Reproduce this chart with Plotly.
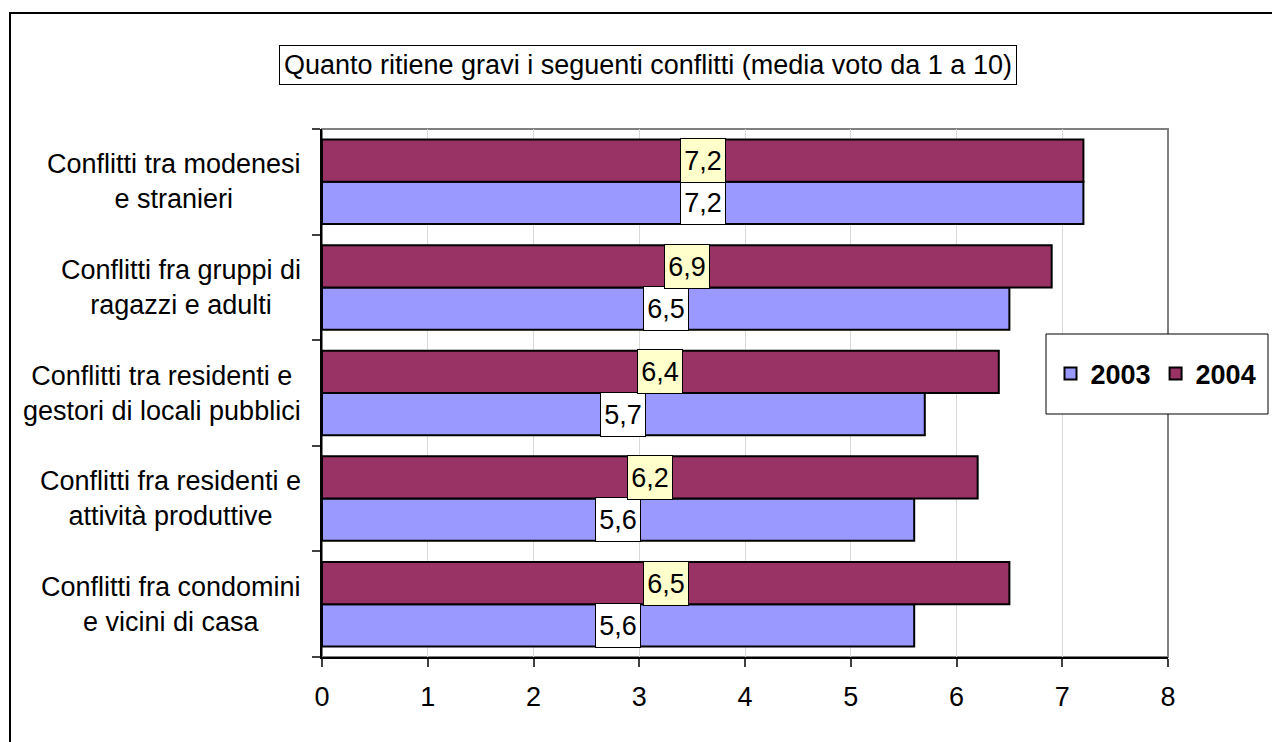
import plotly.graph_objects as go

# Data (bottom-to-top order on the chart)
categories = [
    "Conflitti fra condomini<br>e vicini di casa",
    "Conflitti fra residenti e<br>attività produttive",
    "Conflitti tra residenti e<br>gestori di locali pubblici",
    "Conflitti fra gruppi di<br>ragazzi e adulti",
    "Conflitti tra modenesi<br>e stranieri",
]
values_2003 = [5.6, 5.6, 5.7, 6.5, 7.2]
values_2004 = [6.5, 6.2, 6.4, 6.9, 7.2]
series_names = ["2003", "2004"]
title_text = "Quanto ritiene gravi i seguenti conflitti (media voto da 1 a 10)"
x_ticks = [0, 1, 2, 3, 4, 5, 6, 7, 8]

FONT = "Liberation Sans, Arial, sans-serif"
FS = 27
W, H = 1272, 742
ML, MR, MT, MB = 322, 104, 129, 85
PW, PH = W - ML - MR, H - MT - MB

def px_x(p):
    return (p - ML) / PW

def px_y(p):
    return (H - MB - p) / PH

cat_idx = list(range(len(categories)))

fig = go.Figure()
fig.add_trace(go.Bar(
    y=cat_idx, x=values_2003, orientation="h", name=series_names[0],
    marker=dict(color="#9999FF", line=dict(color="black", width=2)),
))
fig.add_trace(go.Bar(
    y=cat_idx, x=values_2004, orientation="h", name=series_names[1],
    marker=dict(color="#993366", line=dict(color="black", width=2)),
))

annotations = []
bar_half = 0.2
for i, (v3, v4) in enumerate(zip(values_2003, values_2004)):
    for v, off, bg in ((v3, -bar_half, "white"), (v4, bar_half, "#FFFFCC")):
        annotations.append(dict(
            x=v / 2, y=i + off, xref="x", yref="y",
            text=f"{v:.1f}".replace(".", ","), showarrow=False,
            font=dict(family=FONT, size=FS, color="black"),
            bgcolor=bg, bordercolor="black", borderwidth=1, borderpad=0,
            width=44, height=43, xanchor="center", yanchor="middle",
        ))
    # category label
    annotations.append(dict(
        x=0, y=i, xref="paper", yref="y", xanchor="right", yanchor="middle",
        xshift=-19, text=categories[i], align="center", showarrow=False,
        font=dict(family=FONT, size=FS, color="black"),
    ))

annotations.append(dict(
    x=px_x(648), y=px_y(65.5), xref="paper", yref="paper",
    xanchor="center", yanchor="middle", text=title_text, showarrow=False,
    font=dict(family=FONT, size=FS, color="black"),
    bgcolor="white", bordercolor="black", borderwidth=1, borderpad=4,
))

shapes = [
    # plot area border (gray)
    dict(type="rect", xref="paper", yref="paper", x0=0, x1=1, y0=0, y1=1,
         line=dict(color="#808080", width=2), layer="below"),
    # legend box
    dict(type="rect", xref="paper", yref="paper",
         x0=px_x(1046), x1=px_x(1268), y0=px_y(414), y1=px_y(334),
         line=dict(color="black", width=1), fillcolor="white", layer="above"),
    # outer chart border (left & top)
    dict(type="line", xref="paper", yref="paper", x0=px_x(10), x1=px_x(10),
         y0=px_y(13), y1=px_y(745), line=dict(color="black", width=2)),
    dict(type="line", xref="paper", yref="paper", x0=px_x(9), x1=px_x(1275),
         y0=px_y(13), y1=px_y(13), line=dict(color="black", width=2)),
]

fig.update_layout(
    width=W, height=H,
    margin=dict(l=ML, r=MR, t=MT, b=MB, pad=0, autoexpand=False),
    paper_bgcolor="white", plot_bgcolor="white",
    barmode="group", bargap=0.2, bargroupgap=0,
    font=dict(family=FONT, size=FS, color="black"),
    showlegend=True,
    legend=dict(
        orientation="h", x=px_x(1156), y=px_y(374), xanchor="center", yanchor="middle",
        bgcolor="rgba(0,0,0,0)", borderwidth=0,
        font=dict(family=FONT, size=FS, color="black", weight="bold"),
        traceorder="normal", itemwidth=30,
    ),
    annotations=annotations,
    shapes=shapes,
    xaxis=dict(
        range=[0, 8], tickvals=x_ticks, ticktext=[str(t) for t in x_ticks],
        showgrid=True, gridcolor="#D9D9D9", gridwidth=1,
        showline=True, linecolor="black", linewidth=1.5,
        ticks="outside", ticklen=8, tickcolor="#404040", tickwidth=1.5,
        ticklabelstandoff=7, zeroline=False, automargin=False,
        tickfont=dict(family=FONT, size=FS, color="black"),
    ),
    yaxis=dict(
        type="category", range=[-0.5, 4.5],
        tickvals=cat_idx, ticktext=[""] * len(cat_idx), tickson="boundaries",
        showgrid=False, showline=True, linecolor="black", linewidth=2,
        ticks="outside", ticklen=8, tickcolor="#404040", tickwidth=1.5,
        zeroline=False, automargin=False,
    ),
)

fig.write_html("out.html")
